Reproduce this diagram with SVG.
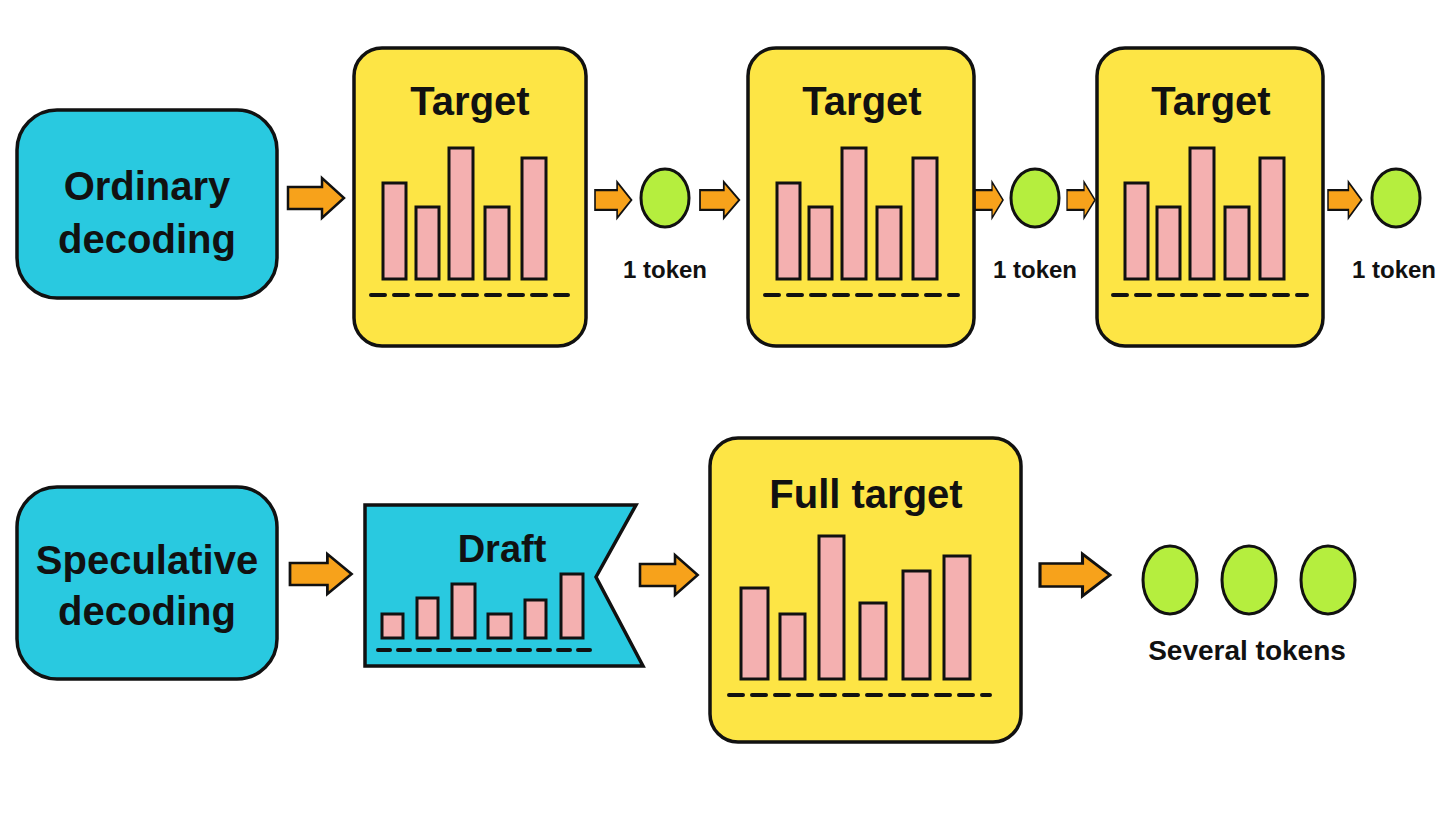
<svg xmlns="http://www.w3.org/2000/svg" width="1456" height="829" viewBox="0 0 1456 829">
<style>
.cy{fill:#29c9e0;stroke:#111;stroke-width:3.5}
.yl{fill:#fde545;stroke:#111;stroke-width:3.5}
.bar{fill:#f4b0b0;stroke:#111;stroke-width:3}
.tok{fill:#b5ee3e;stroke:#111;stroke-width:3}
.ar{fill:#f7a21b;stroke:#111;stroke-width:2.5;stroke-linejoin:miter}
.dash{stroke:#111;stroke-width:4;stroke-dasharray:14 9;stroke-linecap:round;fill:none}
text{font-family:"Liberation Sans",Arial,sans-serif;font-weight:bold;fill:#111;text-anchor:middle}
.big{font-size:40px}
.sm{font-size:24px}
</style>
<defs>
<path id="arr" d="M0,-11 H34 V-20 L56,0 L34,20 V11 H0 Z"/>
</defs>
<rect width="1456" height="829" fill="#fff"/>
<g id="connectors">
<use href="#arr" class="ar" transform="translate(288,198)"/>
<use href="#arr" class="ar" transform="translate(595,200) scale(0.65,0.9)"/>
<use href="#arr" class="ar" transform="translate(700,200) scale(0.7,0.9)"/>
<use href="#arr" class="ar" transform="translate(975,200) scale(0.5,0.9)"/>
<use href="#arr" class="ar" transform="translate(1067,200) scale(0.5,0.9)"/>
<use href="#arr" class="ar" transform="translate(1328,200) scale(0.6,0.9)"/>
<use href="#arr" class="ar" transform="translate(290,574) scale(1.1,1)"/>
<use href="#arr" class="ar" transform="translate(640,575) scale(1.03,1)"/>
<use href="#arr" class="ar" transform="translate(1040,575) scale(1.25,1.05)"/>
</g>
<g id="ordinary">
<rect class="cy" x="17" y="110" width="260" height="188" rx="40"/>
<text class="big" x="147" y="200">Ordinary</text>
<text class="big" x="147" y="253">decoding</text>
</g>
<g id="target1">
<rect class="yl" x="354" y="48" width="232" height="298" rx="28"/>
<text class="big" x="470" y="115">Target</text>
<rect class="bar" x="383" y="183" width="23" height="96"/>
<rect class="bar" x="416" y="207" width="23" height="72"/>
<rect class="bar" x="449" y="148" width="24" height="131"/>
<rect class="bar" x="485" y="207" width="24" height="72"/>
<rect class="bar" x="522" y="158" width="24" height="121"/>
<line class="dash" x1="371" y1="295" x2="568" y2="295"/>
</g>
<g id="token1">
<ellipse class="tok" cx="665" cy="198" rx="24" ry="29"/>
<text class="sm" x="665" y="278">1 token</text>
</g>
<g id="target2">
<rect class="yl" x="748" y="48" width="226" height="298" rx="28"/>
<text class="big" x="862" y="115">Target</text>
<rect class="bar" x="777" y="183" width="23" height="96"/>
<rect class="bar" x="809" y="207" width="23" height="72"/>
<rect class="bar" x="842" y="148" width="24" height="131"/>
<rect class="bar" x="877" y="207" width="24" height="72"/>
<rect class="bar" x="913" y="158" width="24" height="121"/>
<line class="dash" x1="765" y1="295" x2="958" y2="295"/>
</g>
<g id="token2">
<ellipse class="tok" cx="1035" cy="198" rx="24" ry="29"/>
<text class="sm" x="1035" y="278">1 token</text>
</g>
<g id="target3">
<rect class="yl" x="1097" y="48" width="226" height="298" rx="28"/>
<text class="big" x="1211" y="115">Target</text>
<rect class="bar" x="1125" y="183" width="23" height="96"/>
<rect class="bar" x="1157" y="207" width="23" height="72"/>
<rect class="bar" x="1190" y="148" width="24" height="131"/>
<rect class="bar" x="1225" y="207" width="24" height="72"/>
<rect class="bar" x="1260" y="158" width="24" height="121"/>
<line class="dash" x1="1113" y1="295" x2="1307" y2="295"/>
</g>
<g id="token3">
<ellipse class="tok" cx="1396" cy="198" rx="24" ry="29"/>
<text class="sm" x="1394" y="278">1 token</text>
</g>
<g id="speculative">
<rect class="cy" x="17" y="487" width="260" height="192" rx="40"/>
<text class="big" x="147" y="574">Speculative</text>
<text class="big" x="147" y="625">decoding</text>
</g>
<g id="draft">
<polygon class="cy" points="365,505 636,505 596,577 643,666 365,666"/>
<text class="big" x="502" y="562" style="font-size:38px">Draft</text>
<rect class="bar" x="382" y="614" width="21" height="24"/>
<rect class="bar" x="417" y="598" width="21" height="40"/>
<rect class="bar" x="452" y="584" width="23" height="54"/>
<rect class="bar" x="488" y="614" width="23" height="24"/>
<rect class="bar" x="525" y="600" width="21" height="38"/>
<rect class="bar" x="561" y="574" width="22" height="64"/>
<line class="dash" x1="378" y1="650" x2="598" y2="650" style="stroke-dasharray:12 8"/>
</g>
<g id="fulltarget">
<rect class="yl" x="710" y="438" width="311" height="304" rx="28"/>
<text class="big" x="866" y="508">Full target</text>
<rect class="bar" x="741" y="588" width="27" height="91"/>
<rect class="bar" x="780" y="614" width="25" height="65"/>
<rect class="bar" x="819" y="536" width="25" height="143"/>
<rect class="bar" x="860" y="603" width="26" height="76"/>
<rect class="bar" x="903" y="571" width="27" height="108"/>
<rect class="bar" x="944" y="556" width="26" height="123"/>
<line class="dash" x1="729" y1="695" x2="990" y2="695"/>
</g>
<g id="tokens">
<ellipse class="tok" cx="1170" cy="580" rx="27" ry="34"/>
<ellipse class="tok" cx="1249" cy="580" rx="27" ry="34"/>
<ellipse class="tok" cx="1328" cy="580" rx="27" ry="34"/>
<text x="1247" y="660" style="font-size:28px">Several tokens</text>
</g>
</svg>
